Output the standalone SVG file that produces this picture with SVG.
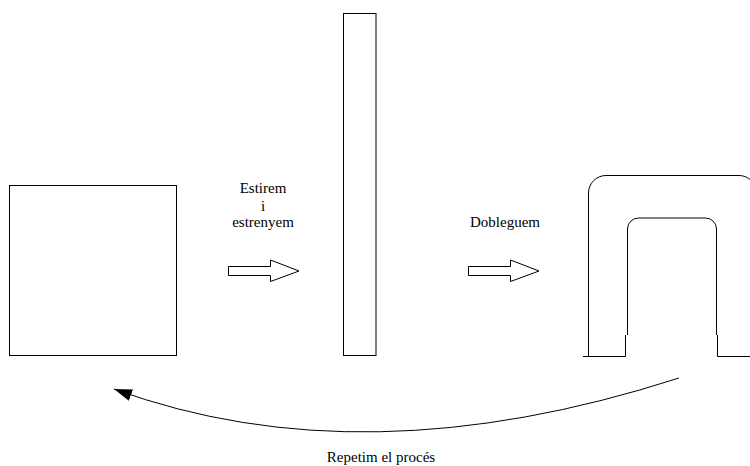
<svg xmlns="http://www.w3.org/2000/svg" width="750" height="466" viewBox="0 0 750 466">
<style>
.s{fill:none;stroke:#000;stroke-width:1}
.b{fill:#fff;stroke:#000;stroke-width:1}
.t{font-family:"Liberation Serif","Times New Roman",serif;font-size:15px;fill:#000;text-anchor:middle}
</style>
<defs>
<marker id="ah" markerWidth="20" markerHeight="12" refX="18" refY="6" orient="auto" markerUnits="userSpaceOnUse">
<path d="M0,0 L18,6 L0,12 Z" fill="#000"/>
</marker>
</defs>
<rect width="750" height="466" fill="#fff"/>
<g id="square"><rect class="s" x="9.5" y="185.5" width="167" height="170"/></g>
<g id="tall"><rect class="s" x="343.5" y="13.5" width="32.5" height="342"/></g>
<g id="arch">
<path class="s" d="M583,356.5 H625.5 M588.5,356.5 V193 A17.5,17.5 0 0 1 606,175.5 H739 A17.5,17.5 0 0 1 756.5,193"/>
<path class="s" d="M625.5,356.5 V335 M627.5,335 V229 A11,11 0 0 1 638.5,218 H705.5 A11,11 0 0 1 716.5,229 V335 M717.5,335 V356.5 H750"/>
</g>
<g id="label1">
<text class="t" x="263" y="192.5">Estirem</text>
<text class="t" x="263" y="210.5">i</text>
<text class="t" x="263" y="226.5">estrenyem</text>
</g>
<g id="label2"><text class="t" x="505" y="226.5">Dobleguem</text></g>
<g id="label3"><text class="t" x="381" y="462">Repetim el procés</text></g>
<g id="connectors">
<polygon class="b" points="228.5,266.5 270.5,266.5 270.5,260 299,271 270.5,281.5 270.5,275.5 228.5,275.5"/>
<polygon class="b" points="468.5,266.5 510.5,266.5 510.5,260 539,271 510.5,281.5 510.5,275.5 468.5,275.5"/>
<path class="s" d="M679,378 Q363,480 114,389" marker-end="url(#ah)"/>
</g>
</svg>
